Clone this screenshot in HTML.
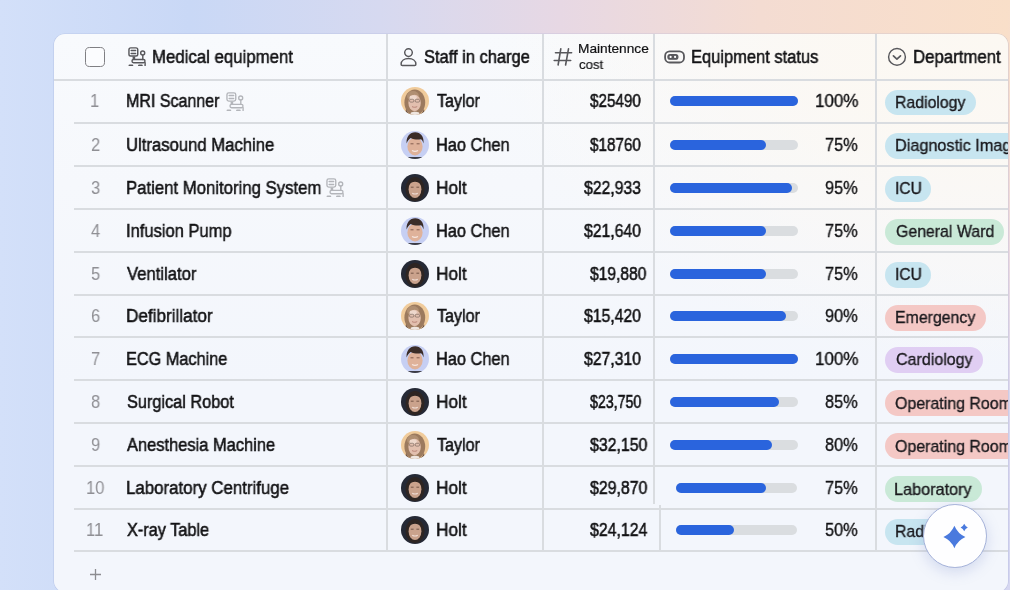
<!DOCTYPE html>
<html><head><meta charset="utf-8">
<style>
*{margin:0;padding:0;box-sizing:border-box}
html,body{width:1010px;height:590px;overflow:hidden}
body{position:relative;font-family:"Liberation Sans",sans-serif;color:#121214;
background:linear-gradient(90deg,#d3e0f9 0px,#c9d8f6 190px,#d6d9f0 380px,#e7d8e4 560px,#f4dcd2 760px,#f9dfc9 1010px);}
.card{position:absolute;left:54px;top:34px;width:954px;height:558px;border-radius:11px;overflow:hidden;box-shadow:0 0 0 0.6px rgba(150,160,205,.35);
background:radial-gradient(ellipse 520px 330px at 100% 0%,rgba(252,248,242,1) 0%,rgba(252,248,242,.85) 35%,rgba(252,248,242,0) 100%),linear-gradient(180deg,#f8fafd 0px,#f6f8fc 150px,#f3f6fc 350px,#f3f6fc 558px);}
.rs{position:absolute;left:1008px;top:0;width:2px;height:590px;background:linear-gradient(180deg,#f9dfc9 0px,#f6ddd0 120px,#ecdae0 250px,#dcd8ee 400px,#d5d7f2 590px)}
.hl{position:absolute;height:2px;background:#d9dce0}
.vl{position:absolute;width:2px;background:#d9dce0}
.t{position:absolute;white-space:nowrap;line-height:20px;transform-origin:0 0;-webkit-text-stroke:0.55px currentColor;will-change:transform}
.av{position:absolute;width:28px;height:28px;border-radius:50%;overflow:hidden}
.bar{position:absolute;height:10px;border-radius:5px;background:#dadde0}
.bar i{position:absolute;left:0;top:0;height:10px;border-radius:5px;background:#2a64dd}
.tag{position:absolute;height:25.8px;border-radius:12.9px}
.blue{background:#c7e5f0}.green{background:#c9e9d7}.pink{background:#f4c8c5}.purple{background:#e0cef3}
</style></head><body>
<div class="rs"></div>
<div style="position:absolute;left:985px;top:560px;width:25px;height:30px;background:#d6d7f1"></div>
<div class="card">
<div class="hl" style="left:0;width:954px;top:45.00px"></div>
<div class="hl" style="left:20.00px;width:934px;top:88.00px"></div>
<div class="hl" style="left:20.00px;width:934px;top:131.00px"></div>
<div class="hl" style="left:20.00px;width:934px;top:174.00px"></div>
<div class="hl" style="left:20.00px;width:934px;top:217.00px"></div>
<div class="hl" style="left:20.00px;width:934px;top:260.00px"></div>
<div class="hl" style="left:20.00px;width:934px;top:302.00px"></div>
<div class="hl" style="left:20.00px;width:934px;top:345.00px"></div>
<div class="hl" style="left:20.00px;width:934px;top:388.00px"></div>
<div class="hl" style="left:20.00px;width:934px;top:431.00px"></div>
<div class="hl" style="left:20.00px;width:934px;top:474.00px"></div>
<div class="hl" style="left:20.00px;width:934px;top:516.00px"></div>
<div class="vl" style="left:332.00px;top:0;height:517.00px"></div>
<div class="vl" style="left:488.00px;top:0;height:517.00px"></div>
<div class="vl" style="left:821.00px;top:0;height:517.00px"></div>
<div class="vl" style="left:599.00px;top:0;height:470.00px"></div>
<div class="vl" style="left:605.00px;top:471.00px;height:46.00px"></div>
<div style="position:absolute;left:30.80px;top:12.80px;width:20.6px;height:20.6px;border:1.5px solid #7f7f83;border-radius:4.6px;background:#fbfcfe"></div>
<svg style="position:absolute;left:73.00px;top:12.00px" width="20" height="20" viewBox="0 0 20 20" fill="none" stroke="#58585c" stroke-width="1.45" stroke-linecap="round" stroke-linejoin="round">
<rect x="1.95" y="1.85" width="8.8" height="8.2" rx="1.8"/><path d="M4.2 4.6h4.4M4.2 7.4h4.4" stroke-width="1.5"/>
<path d="M6.9 10.6v2.6" stroke-width="2.6" stroke-linecap="butt"/><rect x="5" y="13.4" width="13" height="3.3" rx="1.6"/><path d="M15.8 9.2v4.2M18.1 16.6v3"/><circle cx="15.7" cy="7" r="2"/>
<path d="M2.6 19.5h2.6M12.1 19.5h2.6" stroke-width="2.15"/></svg>
<svg style="position:absolute;left:345.00px;top:13.00px" width="19" height="20" viewBox="0 0 19 20" fill="none" stroke="#58585c" stroke-width="1.45"><circle cx="9.5" cy="5.6" r="3.8"/><path d="M2.1 17.2c0-3.5 3.3-5.7 7.4-5.7s7.4 2.2 7.4 5.7c0 .8-.5 1.2-1.2 1.2H3.3c-.7 0-1.2-.4-1.2-1.2z"/></svg>
<svg style="position:absolute;left:498.00px;top:12.00px" width="22" height="22" viewBox="0 0 22 22" fill="none" stroke="#58585c" stroke-width="1.6" stroke-linecap="round"><path d="M8.8 2.9L6.1 19M16.5 2.9L13.6 19M3.5 6.8h16.1M2.2 14.5h16.5"/></svg>
<svg style="position:absolute;left:609.00px;top:15.00px" width="23" height="16" viewBox="0 0 23 16" fill="none" stroke="#58585c" stroke-width="1.8"><rect x="2.1" y="2.3" width="18.9" height="11.2" rx="4.6"/><rect x="4.9" y="5.6" width="10" height="4.6" rx="2.3" fill="#58585c" stroke-width="1.2"/><circle cx="7.6" cy="7.9" r="1.1" fill="#fff" stroke="none"/><circle cx="12.1" cy="7.9" r="1.1" fill="#fff" stroke="none"/></svg>
<svg style="position:absolute;left:832.00px;top:12.00px" width="22" height="22" viewBox="0 0 22 22" fill="none" stroke="#58585c" stroke-width="1.45" stroke-linecap="round" stroke-linejoin="round"><circle cx="11" cy="10.9" r="8.4"/><path d="M7.4 9.8l3.5 3.3 3.6-3.3" stroke-width="1.7"/></svg>
<div class="av" style="left:347.20px;top:53.45px"><svg width="28" height="28" viewBox="0 0 28 28"><rect width="28" height="28" fill="#f0cb9b"/><ellipse cx="13.8" cy="15.5" rx="10.4" ry="13" fill="#9c7a5e"/><ellipse cx="12" cy="9" rx="6" ry="5" fill="#b08f72"/><path d="M5 22c1 3 3 5 5 6h-6z M23 22c-1 3-3 5-5 6h6z" fill="#6a5244"/><ellipse cx="13.6" cy="16" rx="6.2" ry="8.2" fill="#e2bfae"/><ellipse cx="12.2" cy="10.6" rx="3.6" ry="2.3" fill="#eed8cc"/><rect x="8.6" y="12.3" width="4.2" height="2.8" rx="1" fill="none" stroke="#7d6a60" stroke-width="0.7"/><rect x="14.3" y="12.3" width="4.2" height="2.8" rx="1" fill="none" stroke="#7d6a60" stroke-width="0.7"/><path d="M11 19.6c1.5.9 3.7.9 5.2 0" stroke="#b88478" stroke-width="1" fill="none"/><path d="M10 25.5c2-1 6-1 8 0l1 3h-10z" fill="#efe6e0"/></svg></div>
<div class="bar" style="left:615.50px;width:128px;top:62.25px"><i style="width:128px"></i></div>
<div class="tag blue" style="left:831.40px;top:55.50px;width:91.1px"></div>
<div class="av" style="left:347.20px;top:96.70px"><svg width="28" height="28" viewBox="0 0 28 28"><rect width="28" height="28" fill="#c6cff3"/><path d="M5 26h18v3H5z" fill="#3c3c44"/><ellipse cx="14" cy="15.5" rx="7.6" ry="9" fill="#dfb29a"/><path d="M5.6 12.5C5 5.5 9 1.2 14.2 1.2s9 4 8.3 11.3c-.6-2.2-1.4-3.6-2.4-4.3-2.8.6-7.6.4-10.4-1.3-1.6 1-3.3 3-4.1 5.6z" fill="#3b2d28"/><path d="M9.5 12.8h3M15.6 12.8h3" stroke="#7a5546" stroke-width="0.9"/><path d="M11 19.5c1.8 1 4.2 1 6 0" stroke="#f6e6e0" stroke-width="1.2" fill="none"/></svg></div>
<div class="bar" style="left:615.50px;width:128px;top:105.50px"><i style="width:96px"></i></div>
<div class="tag blue" style="left:831.40px;top:99.00px;width:160px"></div>
<div class="av" style="left:347.20px;top:139.70px"><svg width="28" height="28" viewBox="0 0 28 28"><rect width="28" height="28" fill="#252935"/><ellipse cx="14" cy="15" rx="9.5" ry="12" fill="#2e2522"/><ellipse cx="14" cy="15.3" rx="6.4" ry="8.8" fill="#caa28c"/><path d="M7.6 11c1-4 3.5-5.5 6.4-5.5s5.4 1.5 6.4 5.5c-2-2.3-4-3.2-6.4-3.2S9.6 8.7 7.6 11z" fill="#2e2522"/><path d="M9.8 13.2h2.8M15.4 13.2h2.8" stroke="#6b4d40" stroke-width="0.9"/><path d="M11.2 19.2c1.6.9 4 .9 5.6 0" stroke="#f0dcd4" stroke-width="1.1" fill="none"/></svg></div>
<div class="bar" style="left:615.50px;width:128px;top:148.50px"><i style="width:122px"></i></div>
<div class="tag blue" style="left:831.40px;top:142.00px;width:45.8px"></div>
<div class="av" style="left:347.20px;top:182.70px"><svg width="28" height="28" viewBox="0 0 28 28"><rect width="28" height="28" fill="#c6cff3"/><path d="M5 26h18v3H5z" fill="#3c3c44"/><ellipse cx="14" cy="15.5" rx="7.6" ry="9" fill="#dfb29a"/><path d="M5.6 12.5C5 5.5 9 1.2 14.2 1.2s9 4 8.3 11.3c-.6-2.2-1.4-3.6-2.4-4.3-2.8.6-7.6.4-10.4-1.3-1.6 1-3.3 3-4.1 5.6z" fill="#3b2d28"/><path d="M9.5 12.8h3M15.6 12.8h3" stroke="#7a5546" stroke-width="0.9"/><path d="M11 19.5c1.8 1 4.2 1 6 0" stroke="#f6e6e0" stroke-width="1.2" fill="none"/></svg></div>
<div class="bar" style="left:615.50px;width:128px;top:191.50px"><i style="width:96px"></i></div>
<div class="tag green" style="left:831.40px;top:185.00px;width:118.2px"></div>
<div class="av" style="left:347.20px;top:225.70px"><svg width="28" height="28" viewBox="0 0 28 28"><rect width="28" height="28" fill="#252935"/><ellipse cx="14" cy="15" rx="9.5" ry="12" fill="#2e2522"/><ellipse cx="14" cy="15.3" rx="6.4" ry="8.8" fill="#caa28c"/><path d="M7.6 11c1-4 3.5-5.5 6.4-5.5s5.4 1.5 6.4 5.5c-2-2.3-4-3.2-6.4-3.2S9.6 8.7 7.6 11z" fill="#2e2522"/><path d="M9.8 13.2h2.8M15.4 13.2h2.8" stroke="#6b4d40" stroke-width="0.9"/><path d="M11.2 19.2c1.6.9 4 .9 5.6 0" stroke="#f0dcd4" stroke-width="1.1" fill="none"/></svg></div>
<div class="bar" style="left:615.50px;width:128px;top:234.50px"><i style="width:96px"></i></div>
<div class="tag blue" style="left:831.40px;top:228.00px;width:45.8px"></div>
<div class="av" style="left:347.20px;top:268.20px"><svg width="28" height="28" viewBox="0 0 28 28"><rect width="28" height="28" fill="#f0cb9b"/><ellipse cx="13.8" cy="15.5" rx="10.4" ry="13" fill="#9c7a5e"/><ellipse cx="12" cy="9" rx="6" ry="5" fill="#b08f72"/><path d="M5 22c1 3 3 5 5 6h-6z M23 22c-1 3-3 5-5 6h6z" fill="#6a5244"/><ellipse cx="13.6" cy="16" rx="6.2" ry="8.2" fill="#e2bfae"/><ellipse cx="12.2" cy="10.6" rx="3.6" ry="2.3" fill="#eed8cc"/><rect x="8.6" y="12.3" width="4.2" height="2.8" rx="1" fill="none" stroke="#7d6a60" stroke-width="0.7"/><rect x="14.3" y="12.3" width="4.2" height="2.8" rx="1" fill="none" stroke="#7d6a60" stroke-width="0.7"/><path d="M11 19.6c1.5.9 3.7.9 5.2 0" stroke="#b88478" stroke-width="1" fill="none"/><path d="M10 25.5c2-1 6-1 8 0l1 3h-10z" fill="#efe6e0"/></svg></div>
<div class="bar" style="left:615.50px;width:128px;top:277.00px"><i style="width:116px"></i></div>
<div class="tag pink" style="left:831.40px;top:271.00px;width:100.6px"></div>
<div class="av" style="left:347.20px;top:310.90px"><svg width="28" height="28" viewBox="0 0 28 28"><rect width="28" height="28" fill="#c6cff3"/><path d="M5 26h18v3H5z" fill="#3c3c44"/><ellipse cx="14" cy="15.5" rx="7.6" ry="9" fill="#dfb29a"/><path d="M5.6 12.5C5 5.5 9 1.2 14.2 1.2s9 4 8.3 11.3c-.6-2.2-1.4-3.6-2.4-4.3-2.8.6-7.6.4-10.4-1.3-1.6 1-3.3 3-4.1 5.6z" fill="#3b2d28"/><path d="M9.5 12.8h3M15.6 12.8h3" stroke="#7a5546" stroke-width="0.9"/><path d="M11 19.5c1.8 1 4.2 1 6 0" stroke="#f6e6e0" stroke-width="1.2" fill="none"/></svg></div>
<div class="bar" style="left:615.50px;width:128px;top:319.70px"><i style="width:128px"></i></div>
<div class="tag purple" style="left:831.40px;top:313.00px;width:97.6px"></div>
<div class="av" style="left:347.20px;top:354.10px"><svg width="28" height="28" viewBox="0 0 28 28"><rect width="28" height="28" fill="#252935"/><ellipse cx="14" cy="15" rx="9.5" ry="12" fill="#2e2522"/><ellipse cx="14" cy="15.3" rx="6.4" ry="8.8" fill="#caa28c"/><path d="M7.6 11c1-4 3.5-5.5 6.4-5.5s5.4 1.5 6.4 5.5c-2-2.3-4-3.2-6.4-3.2S9.6 8.7 7.6 11z" fill="#2e2522"/><path d="M9.8 13.2h2.8M15.4 13.2h2.8" stroke="#6b4d40" stroke-width="0.9"/><path d="M11.2 19.2c1.6.9 4 .9 5.6 0" stroke="#f0dcd4" stroke-width="1.1" fill="none"/></svg></div>
<div class="bar" style="left:615.50px;width:128px;top:362.90px"><i style="width:109px"></i></div>
<div class="tag pink" style="left:831.40px;top:356.40px;width:140px"></div>
<div class="av" style="left:347.20px;top:397.05px"><svg width="28" height="28" viewBox="0 0 28 28"><rect width="28" height="28" fill="#f0cb9b"/><ellipse cx="13.8" cy="15.5" rx="10.4" ry="13" fill="#9c7a5e"/><ellipse cx="12" cy="9" rx="6" ry="5" fill="#b08f72"/><path d="M5 22c1 3 3 5 5 6h-6z M23 22c-1 3-3 5-5 6h6z" fill="#6a5244"/><ellipse cx="13.6" cy="16" rx="6.2" ry="8.2" fill="#e2bfae"/><ellipse cx="12.2" cy="10.6" rx="3.6" ry="2.3" fill="#eed8cc"/><rect x="8.6" y="12.3" width="4.2" height="2.8" rx="1" fill="none" stroke="#7d6a60" stroke-width="0.7"/><rect x="14.3" y="12.3" width="4.2" height="2.8" rx="1" fill="none" stroke="#7d6a60" stroke-width="0.7"/><path d="M11 19.6c1.5.9 3.7.9 5.2 0" stroke="#b88478" stroke-width="1" fill="none"/><path d="M10 25.5c2-1 6-1 8 0l1 3h-10z" fill="#efe6e0"/></svg></div>
<div class="bar" style="left:615.50px;width:128px;top:405.85px"><i style="width:102.3px"></i></div>
<div class="tag pink" style="left:831.40px;top:399.40px;width:140px"></div>
<div class="av" style="left:347.20px;top:439.85px"><svg width="28" height="28" viewBox="0 0 28 28"><rect width="28" height="28" fill="#252935"/><ellipse cx="14" cy="15" rx="9.5" ry="12" fill="#2e2522"/><ellipse cx="14" cy="15.3" rx="6.4" ry="8.8" fill="#caa28c"/><path d="M7.6 11c1-4 3.5-5.5 6.4-5.5s5.4 1.5 6.4 5.5c-2-2.3-4-3.2-6.4-3.2S9.6 8.7 7.6 11z" fill="#2e2522"/><path d="M9.8 13.2h2.8M15.4 13.2h2.8" stroke="#6b4d40" stroke-width="0.9"/><path d="M11.2 19.2c1.6.9 4 .9 5.6 0" stroke="#f0dcd4" stroke-width="1.1" fill="none"/></svg></div>
<div class="bar" style="left:621.80px;width:121.7px;top:448.65px"><i style="width:90px"></i></div>
<div class="tag green" style="left:831.40px;top:442.30px;width:96.8px"></div>
<div class="av" style="left:347.20px;top:482.35px"><svg width="28" height="28" viewBox="0 0 28 28"><rect width="28" height="28" fill="#252935"/><ellipse cx="14" cy="15" rx="9.5" ry="12" fill="#2e2522"/><ellipse cx="14" cy="15.3" rx="6.4" ry="8.8" fill="#caa28c"/><path d="M7.6 11c1-4 3.5-5.5 6.4-5.5s5.4 1.5 6.4 5.5c-2-2.3-4-3.2-6.4-3.2S9.6 8.7 7.6 11z" fill="#2e2522"/><path d="M9.8 13.2h2.8M15.4 13.2h2.8" stroke="#6b4d40" stroke-width="0.9"/><path d="M11.2 19.2c1.6.9 4 .9 5.6 0" stroke="#f0dcd4" stroke-width="1.1" fill="none"/></svg></div>
<div class="bar" style="left:621.80px;width:121.7px;top:491.15px"><i style="width:58.5px"></i></div>
<div class="tag blue" style="left:831.40px;top:485.00px;width:91.1px"></div>
<svg style="position:absolute;left:171.40px;top:56.90px" width="20" height="20" viewBox="0 0 20 20" fill="none" stroke="#b3b5ba" stroke-width="1.35" stroke-linecap="round" stroke-linejoin="round">
<rect x="1.95" y="1.85" width="8.8" height="8.2" rx="1.8"/><path d="M4.2 4.6h4.4M4.2 7.4h4.4" stroke-width="1.5"/>
<path d="M6.9 10.6v2.6" stroke-width="2.6" stroke-linecap="butt"/><rect x="5" y="13.4" width="13" height="3.3" rx="1.6"/><path d="M15.8 9.2v4.2M18.1 16.6v3"/><circle cx="15.7" cy="7" r="2"/>
<path d="M2.6 19.5h2.6M12.1 19.5h2.6" stroke-width="2.05"/></svg>
<svg style="position:absolute;left:271.10px;top:143.00px" width="20" height="20" viewBox="0 0 20 20" fill="none" stroke="#b3b5ba" stroke-width="1.35" stroke-linecap="round" stroke-linejoin="round">
<rect x="1.95" y="1.85" width="8.8" height="8.2" rx="1.8"/><path d="M4.2 4.6h4.4M4.2 7.4h4.4" stroke-width="1.5"/>
<path d="M6.9 10.6v2.6" stroke-width="2.6" stroke-linecap="butt"/><rect x="5" y="13.4" width="13" height="3.3" rx="1.6"/><path d="M15.8 9.2v4.2M18.1 16.6v3"/><circle cx="15.7" cy="7" r="2"/>
<path d="M2.6 19.5h2.6M12.1 19.5h2.6" stroke-width="2.05"/></svg>
<svg style="position:absolute;left:35.50px;top:534.50px" width="11" height="11" viewBox="0 0 11 11" stroke="#8c8c90" stroke-width="1.3"><path d="M5.5 0v11M0 5.5h11"/></svg>
<div class="t" style="left:98.37px;top:12.80px;font-size:18px;transform:scaleX(0.9335);">Medical equipment</div>
<div class="t" style="left:370.00px;top:12.80px;font-size:18px;transform:scaleX(0.9142);">Staff in charge</div>
<div class="t" style="left:523.79px;top:4.90px;font-size:13.5px;transform:scaleX(1.0149);-webkit-text-stroke:0.2px currentColor">Maintennce</div>
<div class="t" style="left:524.80px;top:21.40px;font-size:13.5px;transform:scaleX(0.9757);-webkit-text-stroke:0.2px currentColor">cost</div>
<div class="t" style="left:636.98px;top:12.80px;font-size:18px;transform:scaleX(0.9161);">Equipment status</div>
<div class="t" style="left:858.77px;top:12.80px;font-size:18px;transform:scaleX(0.9329);">Department</div>
<div class="t" style="left:36.14px;top:57.35px;font-size:18px;transform:scaleX(0.9200);color:#8f8f94;-webkit-text-stroke:0px #8f8f94">1</div>
<div class="t" style="left:71.91px;top:57.35px;font-size:18px;transform:scaleX(0.8900);">MRI Scanner</div>
<div class="t" style="left:382.50px;top:57.35px;font-size:18px;transform:scaleX(0.8934);">Taylor</div>
<div class="t" style="left:535.80px;top:57.35px;font-size:18px;transform:scaleX(0.8476);">$25490</div>
<div class="t" style="left:760.56px;top:57.35px;font-size:18px;transform:scaleX(0.9438);-webkit-text-stroke:0.35px currentColor">100%</div>
<div class="t" style="left:840.85px;top:58.70px;font-size:16.6px;transform:scaleX(0.9537);color:#1a191d;-webkit-text-stroke:0.35px currentColor">Radiology</div>
<div class="t" style="left:36.60px;top:100.60px;font-size:18px;transform:scaleX(0.9200);color:#8f8f94;-webkit-text-stroke:0px #8f8f94">2</div>
<div class="t" style="left:71.87px;top:100.60px;font-size:18px;transform:scaleX(0.9266);">Ultrasound Machine</div>
<div class="t" style="left:381.59px;top:100.60px;font-size:18px;transform:scaleX(0.9084);">Hao Chen</div>
<div class="t" style="left:535.80px;top:100.60px;font-size:18px;transform:scaleX(0.8476);">$18760</div>
<div class="t" style="left:771.30px;top:100.60px;font-size:18px;transform:scaleX(0.9078);-webkit-text-stroke:0.35px currentColor">75%</div>
<div class="t" style="left:840.62px;top:102.20px;font-size:16.6px;transform:scaleX(0.9780);color:#1a191d;-webkit-text-stroke:0.35px currentColor">Diagnostic Imaging</div>
<div class="t" style="left:36.60px;top:143.60px;font-size:18px;transform:scaleX(0.9200);color:#8f8f94;-webkit-text-stroke:0px #8f8f94">3</div>
<div class="t" style="left:71.87px;top:143.60px;font-size:18px;transform:scaleX(0.9303);">Patient Monitoring System</div>
<div class="t" style="left:381.54px;top:143.60px;font-size:18px;transform:scaleX(0.9578);">Holt</div>
<div class="t" style="left:529.70px;top:143.60px;font-size:18px;transform:scaleX(0.8762);">$22,933</div>
<div class="t" style="left:771.30px;top:143.60px;font-size:18px;transform:scaleX(0.9078);-webkit-text-stroke:0.35px currentColor">95%</div>
<div class="t" style="left:840.66px;top:145.20px;font-size:16.6px;transform:scaleX(0.9438);color:#1a191d;-webkit-text-stroke:0.35px currentColor">ICU</div>
<div class="t" style="left:36.60px;top:186.60px;font-size:18px;transform:scaleX(0.9200);color:#8f8f94;-webkit-text-stroke:0px #8f8f94">4</div>
<div class="t" style="left:71.88px;top:186.60px;font-size:18px;transform:scaleX(0.9180);">Infusion Pump</div>
<div class="t" style="left:381.59px;top:186.60px;font-size:18px;transform:scaleX(0.9084);">Hao Chen</div>
<div class="t" style="left:529.70px;top:186.60px;font-size:18px;transform:scaleX(0.8762);">$21,640</div>
<div class="t" style="left:771.30px;top:186.60px;font-size:18px;transform:scaleX(0.9078);-webkit-text-stroke:0.35px currentColor">75%</div>
<div class="t" style="left:841.60px;top:188.20px;font-size:16.6px;transform:scaleX(0.9566);color:#1a191d;-webkit-text-stroke:0.35px currentColor">General Ward</div>
<div class="t" style="left:36.60px;top:229.60px;font-size:18px;transform:scaleX(0.9200);color:#8f8f94;-webkit-text-stroke:0px #8f8f94">5</div>
<div class="t" style="left:72.80px;top:229.60px;font-size:18px;transform:scaleX(0.9260);">Ventilator</div>
<div class="t" style="left:381.54px;top:229.60px;font-size:18px;transform:scaleX(0.9578);">Holt</div>
<div class="t" style="left:535.80px;top:229.60px;font-size:18px;transform:scaleX(0.8670);">$19,880</div>
<div class="t" style="left:771.30px;top:229.60px;font-size:18px;transform:scaleX(0.9078);-webkit-text-stroke:0.35px currentColor">75%</div>
<div class="t" style="left:840.66px;top:231.20px;font-size:16.6px;transform:scaleX(0.9438);color:#1a191d;-webkit-text-stroke:0.35px currentColor">ICU</div>
<div class="t" style="left:36.60px;top:272.10px;font-size:18px;transform:scaleX(0.9200);color:#8f8f94;-webkit-text-stroke:0px #8f8f94">6</div>
<div class="t" style="left:71.85px;top:272.10px;font-size:18px;transform:scaleX(0.9519);">Defibrillator</div>
<div class="t" style="left:382.50px;top:272.10px;font-size:18px;transform:scaleX(0.8934);">Taylor</div>
<div class="t" style="left:529.70px;top:272.10px;font-size:18px;transform:scaleX(0.8762);">$15,420</div>
<div class="t" style="left:771.30px;top:272.10px;font-size:18px;transform:scaleX(0.9078);-webkit-text-stroke:0.35px currentColor">90%</div>
<div class="t" style="left:840.64px;top:274.20px;font-size:16.6px;transform:scaleX(0.9566);color:#1a191d;-webkit-text-stroke:0.35px currentColor">Emergency</div>
<div class="t" style="left:36.60px;top:314.80px;font-size:18px;transform:scaleX(0.9200);color:#8f8f94;-webkit-text-stroke:0px #8f8f94">7</div>
<div class="t" style="left:71.90px;top:314.80px;font-size:18px;transform:scaleX(0.9042);">ECG Machine</div>
<div class="t" style="left:381.59px;top:314.80px;font-size:18px;transform:scaleX(0.9084);">Hao Chen</div>
<div class="t" style="left:529.70px;top:314.80px;font-size:18px;transform:scaleX(0.8762);">$27,310</div>
<div class="t" style="left:760.56px;top:314.80px;font-size:18px;transform:scaleX(0.9438);-webkit-text-stroke:0.35px currentColor">100%</div>
<div class="t" style="left:841.60px;top:316.20px;font-size:16.6px;transform:scaleX(0.9659);color:#1a191d;-webkit-text-stroke:0.35px currentColor">Cardiology</div>
<div class="t" style="left:36.60px;top:358.00px;font-size:18px;transform:scaleX(0.9200);color:#8f8f94;-webkit-text-stroke:0px #8f8f94">8</div>
<div class="t" style="left:72.80px;top:358.00px;font-size:18px;transform:scaleX(0.9055);">Surgical Robot</div>
<div class="t" style="left:381.54px;top:358.00px;font-size:18px;transform:scaleX(0.9578);">Holt</div>
<div class="t" style="left:535.70px;top:358.00px;font-size:18px;transform:scaleX(0.7886);">$23,750</div>
<div class="t" style="left:771.30px;top:358.00px;font-size:18px;transform:scaleX(0.9078);-webkit-text-stroke:0.35px currentColor">85%</div>
<div class="t" style="left:841.30px;top:359.60px;font-size:16.6px;transform:scaleX(0.9595);color:#1a191d;-webkit-text-stroke:0.35px currentColor">Operating Room</div>
<div class="t" style="left:36.60px;top:400.95px;font-size:18px;transform:scaleX(0.9200);color:#8f8f94;-webkit-text-stroke:0px #8f8f94">9</div>
<div class="t" style="left:72.80px;top:400.95px;font-size:18px;transform:scaleX(0.9143);">Anesthesia Machine</div>
<div class="t" style="left:382.50px;top:400.95px;font-size:18px;transform:scaleX(0.8934);">Taylor</div>
<div class="t" style="left:535.50px;top:400.95px;font-size:18px;transform:scaleX(0.8823);">$32,150</div>
<div class="t" style="left:771.30px;top:400.95px;font-size:18px;transform:scaleX(0.9078);-webkit-text-stroke:0.35px currentColor">80%</div>
<div class="t" style="left:841.30px;top:402.60px;font-size:16.6px;transform:scaleX(0.9595);color:#1a191d;-webkit-text-stroke:0.35px currentColor">Operating Room</div>
<div class="t" style="left:31.54px;top:443.75px;font-size:18px;transform:scaleX(0.9200);color:#8f8f94;-webkit-text-stroke:0px #8f8f94">10</div>
<div class="t" style="left:71.86px;top:443.75px;font-size:18px;transform:scaleX(0.9371);">Laboratory Centrifuge</div>
<div class="t" style="left:381.54px;top:443.75px;font-size:18px;transform:scaleX(0.9578);">Holt</div>
<div class="t" style="left:535.50px;top:443.75px;font-size:18px;transform:scaleX(0.8823);">$29,870</div>
<div class="t" style="left:771.30px;top:443.75px;font-size:18px;transform:scaleX(0.9078);-webkit-text-stroke:0.35px currentColor">75%</div>
<div class="t" style="left:840.32px;top:445.50px;font-size:16.6px;transform:scaleX(0.9781);color:#1a191d;-webkit-text-stroke:0.35px currentColor">Laboratory</div>
<div class="t" style="left:32.15px;top:486.25px;font-size:18px;transform:scaleX(0.9200);color:#8f8f94;-webkit-text-stroke:0px #8f8f94">11</div>
<div class="t" style="left:72.80px;top:486.25px;font-size:18px;transform:scaleX(0.9041);">X-ray Table</div>
<div class="t" style="left:381.54px;top:486.25px;font-size:18px;transform:scaleX(0.9578);">Holt</div>
<div class="t" style="left:535.50px;top:486.25px;font-size:18px;transform:scaleX(0.8823);">$24,124</div>
<div class="t" style="left:771.30px;top:486.25px;font-size:18px;transform:scaleX(0.9078);-webkit-text-stroke:0.35px currentColor">50%</div>
<div class="t" style="left:840.85px;top:488.20px;font-size:16.6px;transform:scaleX(0.9537);color:#1a191d;-webkit-text-stroke:0.35px currentColor">Radiology</div>
<div style="position:absolute;left:869.30px;top:470.00px;width:63.8px;height:63.8px;border-radius:50%;background:#fefeff;border:1.5px solid #a4b1d8;box-shadow:0 4px 14px rgba(110,130,200,.25)"></div>
<svg style="position:absolute;left:886.00px;top:486.00px" width="30" height="32" viewBox="940 520 30 32"><path fill="#4a7ade" d="M954.4 525.8Q957.6999999999999 533.7 965.4 537Q957.6999999999999 540.3 954.4 548.2Q951.1 540.3 943.4 537Q951.1 533.7 954.4 525.8Z"/><path fill="#4a7ade" d="M964.2 523.8Q965.3000000000001 526.4 967.8000000000001 527.5Q965.3000000000001 528.6 964.2 531.2Q963.1 528.6 960.6 527.5Q963.1 526.4 964.2 523.8Z"/></svg>
</div>
</body></html>
